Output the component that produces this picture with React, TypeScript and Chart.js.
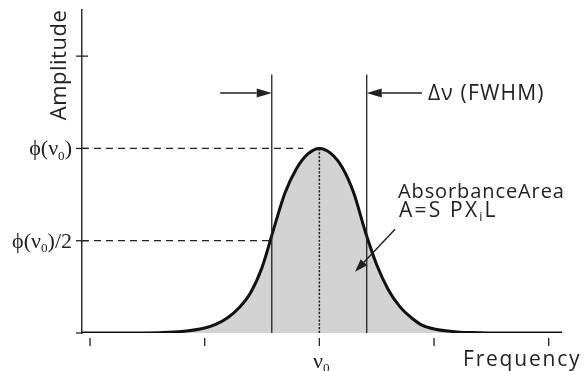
import React, { useEffect, useRef } from 'react';
import { Chart, registerables } from 'chart.js';

Chart.register(...registerables);

// Frequency offset from the line centre (tick units) and relative amplitude
const frequency = [-2.07, -1.6, -1.4, -1.2, -1.0, -0.9, -0.8, -0.7, -0.6, -0.5, -0.4, -0.3, -0.2, -0.1, 0, 0.1, 0.2, 0.3, 0.4, 0.5, 0.6, 0.7, 0.8, 0.9, 1.0, 1.2, 1.4, 1.6, 2.116];
const amplitude = [0, 0, 0.002, 0.008, 0.027, 0.048, 0.083, 0.137, 0.218, 0.355, 0.56, 0.758, 0.89, 0.97, 1.0, 0.973, 0.896, 0.758, 0.55, 0.37, 0.236, 0.144, 0.084, 0.041, 0.022, 0.006, 0.002, 0, 0];

const xTicks = [-2, -1, 0, 1, 2];
const yTicks = [0, 0.5, 1, 1.5];

// half-maximum crossings (FWHM bounds) and the height the markers reach
const fwhmBounds = [-0.415, 0.413];
const fwhmTop = 1.4;
const fwhmArrowLevel = 1.3;
const fwhmArrowTails = [-0.865, 0.895];
const peakDashEnd = -0.14;
// absorbance area pointer: [x0, y0, x1, y1]
const areaPointer = [0.66, 0.562, 0.311, 0.332];

const SANS = '"Open Sans", "DejaVu Sans", sans-serif';
const SERIF = '"Liberation Serif", "DejaVu Serif", serif';

type Part = { t: string; sub?: boolean };

function richWidth(ctx: CanvasRenderingContext2D, parts: Part[], size: number, family: string) {
  let w = 0;
  for (const p of parts) {
    ctx.font = `${p.sub ? size * 0.6 : size}px ${family}`;
    w += ctx.measureText(p.t).width;
  }
  return w;
}

function drawRich(ctx: CanvasRenderingContext2D, parts: Part[], x: number, y: number, size: number, family: string, align: 'left' | 'right' | 'center') {
  const w = richWidth(ctx, parts, size, family);
  let cx = align === 'left' ? x : align === 'right' ? x - w : x - w / 2;
  ctx.textAlign = 'left';
  ctx.textBaseline = 'alphabetic';
  for (const p of parts) {
    ctx.font = `${p.sub ? size * 0.6 : size}px ${family}`;
    ctx.fillText(p.t, cx, p.sub ? y + size * 0.2 : y);
    cx += ctx.measureText(p.t).width;
  }
}

function arrow(ctx: CanvasRenderingContext2D, x0: number, y0: number, x1: number, y1: number, len: number, half: number) {
  const a = Math.atan2(y1 - y0, x1 - x0);
  const bx = x1 - Math.cos(a) * len;
  const by = y1 - Math.sin(a) * len;
  ctx.beginPath();
  ctx.moveTo(x0, y0);
  ctx.lineTo(bx, by);
  ctx.stroke();
  ctx.beginPath();
  ctx.moveTo(x1, y1);
  ctx.lineTo(bx + Math.sin(a) * half, by - Math.cos(a) * half);
  ctx.lineTo(bx - Math.sin(a) * half, by + Math.cos(a) * half);
  ctx.closePath();
  ctx.fill();
}

const annotations = {
  id: 'annotations',
  afterDatasetsDraw(chart: any) {
    const { ctx, scales } = chart;
    const xs = scales.x;
    const ys = scales.y;
    const X = (v: number) => xs.getPixelForValue(v);
    const Y = (v: number) => ys.getPixelForValue(v);
    const axisX = X(xs.min);
    const base = Y(0);
    ctx.save();
    ctx.strokeStyle = '#222';
    ctx.fillStyle = '#222';

    // y ticks (crossing the axis)
    ctx.lineWidth = 1.3;
    for (const v of yTicks) {
      ctx.beginPath();
      ctx.moveTo(axisX - 6, Y(v));
      ctx.lineTo(v === 0 ? axisX : axisX + 6, Y(v));
      ctx.stroke();
    }
    // x ticks below the baseline
    for (const v of xTicks) {
      ctx.beginPath();
      ctx.moveTo(X(v), base + 5);
      ctx.lineTo(X(v), base + 13);
      ctx.stroke();
    }

    // dashed reference lines
    ctx.setLineDash([7, 5]);
    ctx.lineWidth = 1.3;
    ctx.beginPath();
    ctx.moveTo(axisX, Y(1));
    ctx.lineTo(X(peakDashEnd), Y(1));
    ctx.moveTo(axisX, Y(0.5));
    ctx.lineTo(X(fwhmBounds[0]), Y(0.5));
    ctx.stroke();

    // dotted centre line
    ctx.setLineDash([2.2, 1.6]);
    ctx.lineWidth = 1.5;
    ctx.beginPath();
    ctx.moveTo(X(0), Y(1));
    ctx.lineTo(X(0), base);
    ctx.stroke();
    ctx.setLineDash([]);

    // FWHM verticals
    ctx.lineWidth = 1.3;
    for (const b of fwhmBounds) {
      ctx.beginPath();
      ctx.moveTo(X(b), Y(fwhmTop));
      ctx.lineTo(X(b), base);
      ctx.stroke();
    }
    // FWHM arrows
    ctx.lineWidth = 1.5;
    arrow(ctx, X(fwhmArrowTails[0]), Y(fwhmArrowLevel), X(fwhmBounds[0]), Y(fwhmArrowLevel), 15, 4.5);
    arrow(ctx, X(fwhmArrowTails[1]), Y(fwhmArrowLevel), X(fwhmBounds[1]), Y(fwhmArrowLevel), 15, 4.5);
    // area pointer
    arrow(ctx, X(areaPointer[0]), Y(areaPointer[1]), X(areaPointer[2]), Y(areaPointer[3]), 13, 4.5);

    // texts
    ctx.fillStyle = '#222';
    (ctx as any).letterSpacing = '1.2px';
    drawRich(ctx, [{ t: 'Δν (FWHM)' }], X(fwhmArrowTails[1]) + 6, Y(fwhmArrowLevel) + 7, 21, SANS, 'left');
    (ctx as any).letterSpacing = '0.9px';
    drawRich(ctx, [{ t: 'AbsorbanceArea' }], 398, 198, 20, SANS, 'left');
    (ctx as any).letterSpacing = '2.2px';
    drawRich(ctx, [{ t: 'A=S PX' }, { t: 'i', sub: true }, { t: 'L' }], 399, 217, 21, SANS, 'left');
    (ctx as any).letterSpacing = '1.8px';
    drawRich(ctx, [{ t: 'Frequency' }], 463, 366, 21, SANS, 'left');
    ctx.save();
    ctx.translate(66, 65);
    ctx.rotate(-Math.PI / 2);
    (ctx as any).letterSpacing = '0.5px';
    drawRich(ctx, [{ t: 'Amplitude' }], 0, 0, 22, SANS, 'center');
    ctx.restore();
    (ctx as any).letterSpacing = '0px';

    // serif tick labels
    drawRich(ctx, [{ t: 'ϕ(ν' }, { t: '0', sub: true }, { t: ')' }], axisX - 10, Y(1) + 7, 22, SERIF, 'right');
    drawRich(ctx, [{ t: 'ϕ(ν' }, { t: '0', sub: true }, { t: ')/2' }], axisX - 10, Y(0.5) + 7, 22, SERIF, 'right');
    drawRich(ctx, [{ t: 'ν' }, { t: '0', sub: true }], X(0) + 2, 368, 22, SERIF, 'center');

    ctx.restore();
  },
};

export default function App() {
  const ref = useRef<HTMLCanvasElement>(null);
  useEffect(() => {
    if (!ref.current) return;
    const chart = new Chart(ref.current, {
      type: 'line',
      data: {
        datasets: [
          {
            data: frequency.map((f, i) => ({ x: f, y: amplitude[i] })),
            borderColor: '#111',
            borderWidth: 3,
            backgroundColor: '#d3d3d3',
            fill: 'origin',
            pointRadius: 0,
            cubicInterpolationMode: 'monotone',
          },
        ],
      },
      options: {
        animation: false,
        responsive: false,
        devicePixelRatio: 1,
        layout: { padding: { left: 82, top: 10, right: 25, bottom: 38 } },
        plugins: { legend: { display: false }, tooltip: { enabled: false } },
        scales: {
          x: {
            type: 'linear',
            min: -2.07,
            max: 2.116,
            ticks: { display: false },
            grid: { display: false, drawTicks: false },
            border: { display: false },
          },
          y: {
            min: 0,
            max: 1.75,
            ticks: { display: false },
            grid: { display: false, drawTicks: false },
            border: { display: true, color: '#333', width: 1.5 },
          },
        },
      },
      plugins: [annotations],
    });
    return () => chart.destroy();
  }, []);
  return (
    <div style={{ position: 'fixed', left: 0, top: 0, width: 587, height: 371, background: '#fff' }}>
      <canvas ref={ref} width={587} height={371} />
    </div>
  );
}
